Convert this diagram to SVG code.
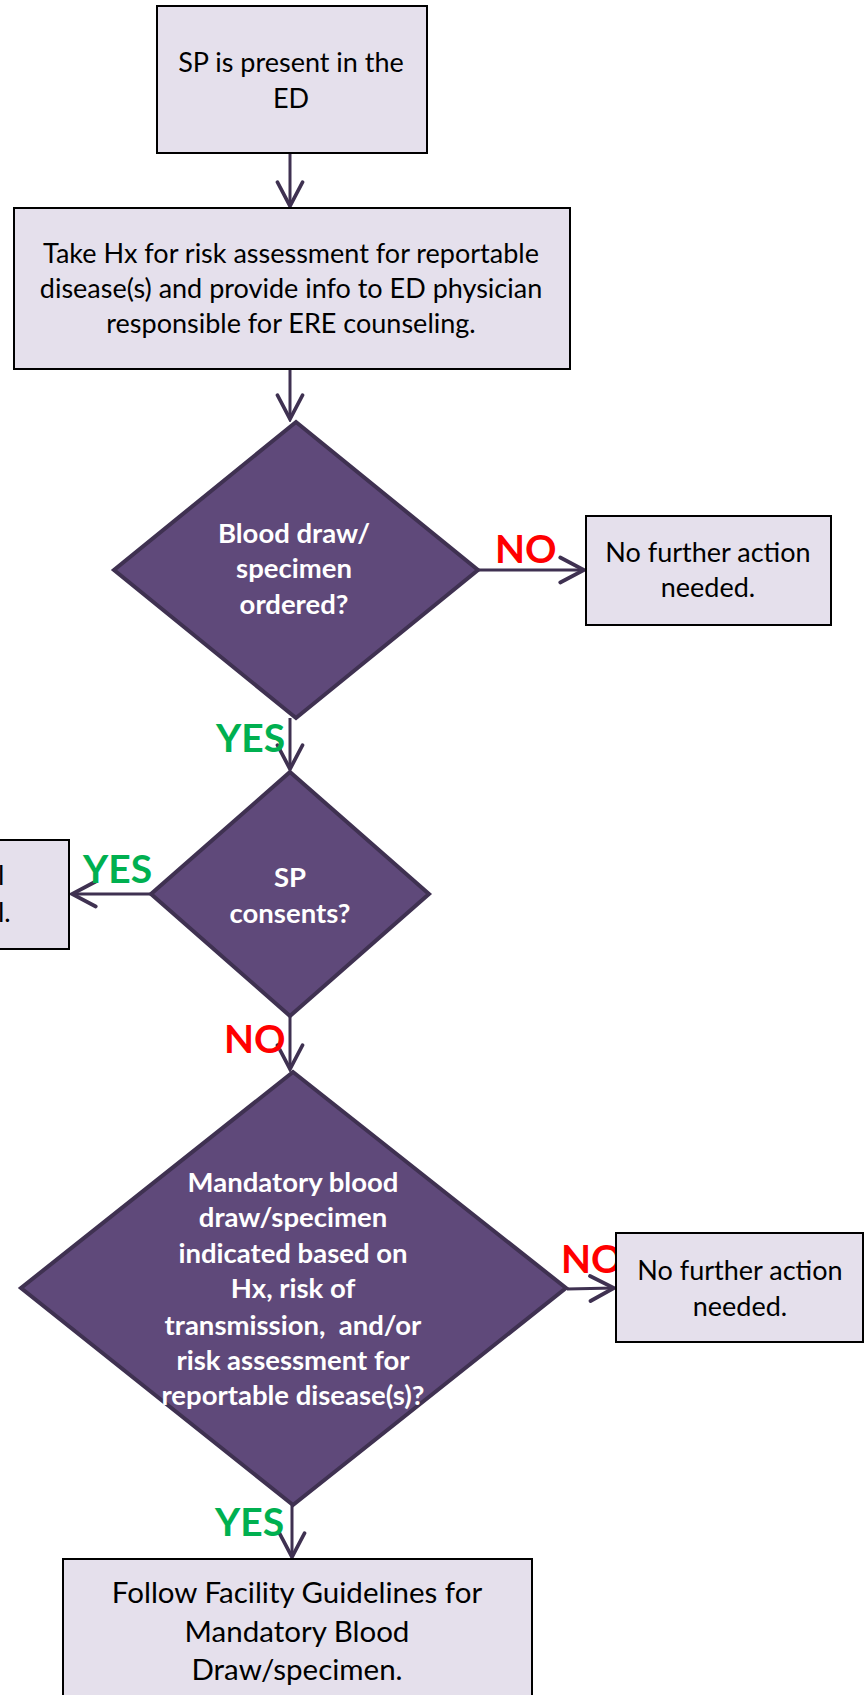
<svg xmlns="http://www.w3.org/2000/svg" width="866" height="1695" viewBox="0 0 866 1695">
  <style>
    .box { fill: #E5E0EC; stroke: #000000; stroke-width: 2; }
    .dec { fill: #5F497A; stroke: #3F3151; stroke-width: 4; stroke-linejoin: miter; }
    .bt { font-family: Lato, "Liberation Sans", sans-serif; font-size: 27px; fill: #000000; text-anchor: middle; }
    .bt-lg { font-size: 29.5px; }
    .dt { font-family: Lato, "Liberation Sans", sans-serif; font-size: 27.5px; font-weight: bold; fill: #FFFFFF; text-anchor: middle; }
    .no { font-family: Lato, "Liberation Sans", sans-serif; font-size: 39px; font-weight: bold; fill: #FF0000; }
    .yes { font-family: Lato, "Liberation Sans", sans-serif; font-size: 39px; font-weight: bold; fill: #00B050; }
    .conn { fill: none; stroke: #3F3151; stroke-width: 3; marker-end: url(#head); }
  </style>
  <defs>
    <marker id="head" markerUnits="userSpaceOnUse" markerWidth="30" markerHeight="30" viewBox="-22 -12 24 24" refX="0" refY="0" orient="auto">
      <path d="M-19,-10 L0,0 L-19,10" fill="none" stroke="#3F3151" stroke-width="3" stroke-linecap="round" stroke-linejoin="miter"/>
    </marker>
  </defs>

  <rect x="0" y="0" width="866" height="1695" fill="#FFFFFF"/>

  <!-- connectors -->
  <g id="connectors">
    <line class="conn" x1="290" y1="154" x2="290" y2="206"/>
    <line class="conn" x1="290" y1="369" x2="290" y2="419"/>
    <line class="conn" x1="478" y1="570" x2="584" y2="570"/>
    <line class="conn" x1="290" y1="718" x2="290" y2="769"/>
    <line class="conn" x1="151" y1="894" x2="72" y2="894"/>
    <line class="conn" x1="290" y1="1016" x2="290" y2="1069"/>
    <line class="conn" x1="567" y1="1289" x2="614" y2="1288"/>
    <line class="conn" x1="292" y1="1505" x2="292" y2="1557"/>
  </g>

  <!-- branch labels -->
  <g id="labels">
    <text class="no" x="495" y="563">NO</text>
    <text class="yes" x="216" y="752">YES</text>
    <text class="yes" x="83" y="883">YES</text>
    <text class="no" x="224" y="1053">NO</text>
    <text class="no" x="561" y="1273">NO</text>
    <text class="yes" x="215" y="1536">YES</text>
  </g>

  <g id="start">
    <rect class="box" x="157" y="6" width="270" height="147"/>
    <text class="bt" x="291" y="72">SP is present in the</text>
    <text class="bt" x="291" y="108">ED</text>
  </g>

  <g id="history">
    <rect class="box" x="14" y="208" width="556" height="161"/>
    <text class="bt" x="291" y="263">Take Hx for risk assessment for reportable</text>
    <text class="bt" x="291" y="298">disease(s) and provide info to ED physician</text>
    <text class="bt" x="291" y="333">responsible for ERE counseling.</text>
  </g>

  <g id="ordered">
    <polygon class="dec" points="296,422 478,570 296,718 114,570"/>
    <text class="dt" x="294" y="543">Blood draw/</text>
    <text class="dt" x="294" y="578">specimen</text>
    <text class="dt" x="294" y="614">ordered?</text>
  </g>

  <g id="no-action-1">
    <rect class="box" x="586" y="516" width="245" height="109"/>
    <text class="bt" x="708" y="562">No further action</text>
    <text class="bt" x="708" y="597">needed.</text>
  </g>

  <g id="consents">
    <polygon class="dec" points="290,772 429,894 290,1016 151,894"/>
    <text class="dt" x="290" y="887">SP</text>
    <text class="dt" x="290" y="923">consents?</text>
  </g>

  <g id="consent-box">
    <rect class="box" x="-10" y="840" width="79" height="109"/>
    <text class="bt" x="-2" y="885" style="text-anchor: start">l</text>
    <text class="bt" x="-2" y="922" style="text-anchor: start">l.</text>
  </g>

  <g id="mandatory">
    <polygon class="dec" points="293,1072 566,1288 293,1505 21,1288"/>
    <text class="dt" x="293" y="1192">Mandatory blood</text>
    <text class="dt" x="293" y="1227">draw/specimen</text>
    <text class="dt" x="293" y="1263">indicated based on</text>
    <text class="dt" x="293" y="1298">Hx, risk of</text>
    <text class="dt" x="293" y="1335" xml:space="preserve">transmission,  and/or</text>
    <text class="dt" x="293" y="1370">risk assessment for</text>
    <text class="dt" x="293" y="1405">reportable disease(s)?</text>
  </g>

  <g id="no-action-2">
    <rect class="box" x="616" y="1233" width="247" height="109"/>
    <text class="bt" x="740" y="1280">No further action</text>
    <text class="bt" x="740" y="1316">needed.</text>
  </g>

  <g id="guidelines">
    <rect class="box" x="63" y="1559" width="469" height="160"/>
    <text class="bt bt-lg" x="297" y="1603">Follow Facility Guidelines for</text>
    <text class="bt bt-lg" x="297" y="1642">Mandatory Blood</text>
    <text class="bt bt-lg" x="297" y="1680">Draw/specimen.</text>
  </g>
</svg>
